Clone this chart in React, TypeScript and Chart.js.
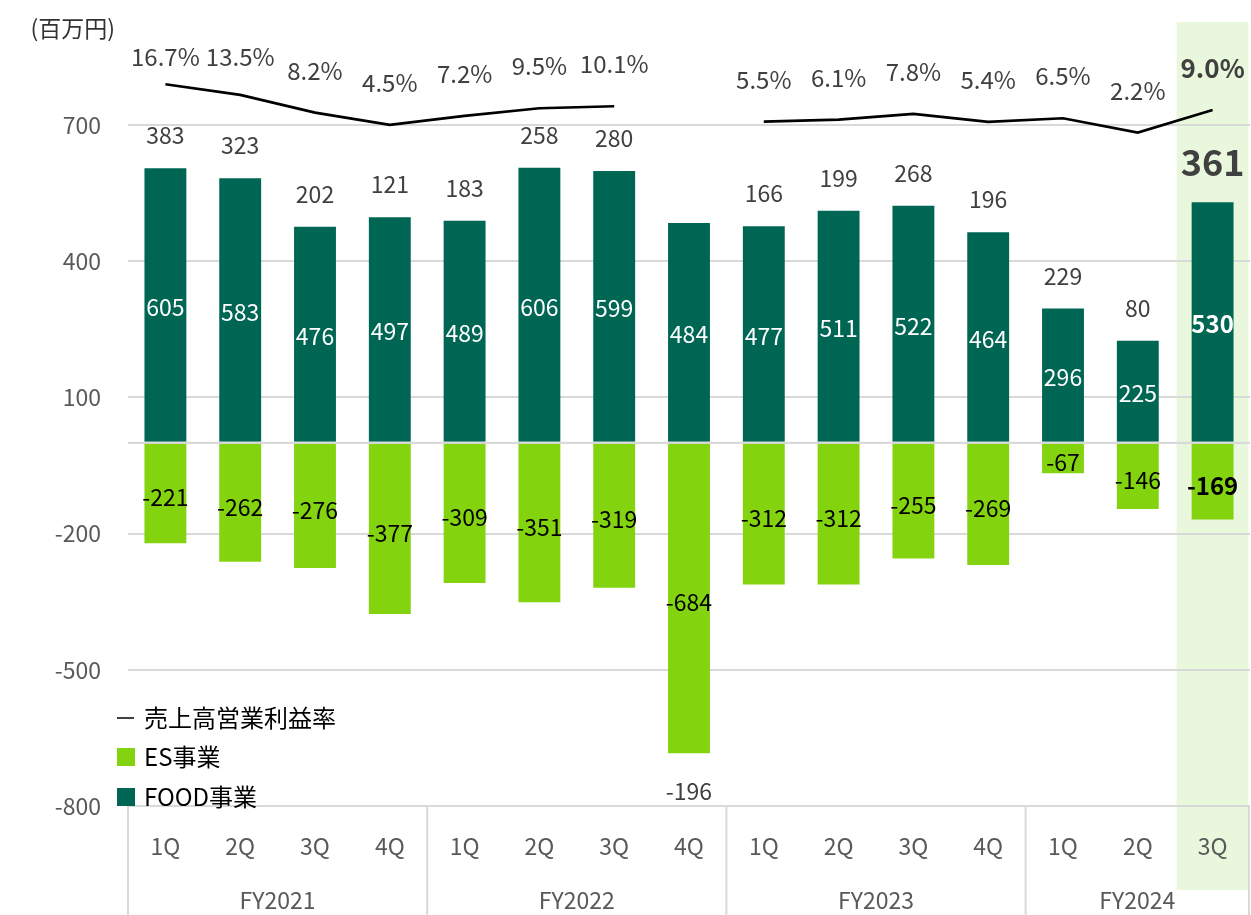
import React, { useEffect, useRef } from 'react';
import { Chart, registerables } from 'chart.js';

Chart.register(...registerables);

const quarters = ['1Q', '2Q', '3Q', '4Q', '1Q', '2Q', '3Q', '4Q', '1Q', '2Q', '3Q', '4Q', '1Q', '2Q', '3Q'];
const fiscalYears = ['FY2021', 'FY2022', 'FY2023', 'FY2024'];
const fiscalYearSizes = [4, 4, 4, 3];
const foodValues = [605, 583, 476, 497, 489, 606, 599, 484, 477, 511, 522, 464, 296, 225, 530];
const esValues = [-221, -262, -276, -377, -309, -351, -319, -684, -312, -312, -255, -269, -67, -146, -169];
const totalValues = [383, 323, 202, 121, 183, 258, 280, -196, 166, 199, 268, 196, 229, 80, 361];
const marginValues: (number | null)[] = [16.7, 13.5, 8.2, 4.5, 7.2, 9.5, 10.1, null, 5.5, 6.1, 7.8, 5.4, 6.5, 2.2, 9.0];
const yTickValues = [-800, -500, -200, 100, 400, 700];
const highlightIndex = 14;
const unitLabel = '(百万円)';
const legendLine = '売上高営業利益率';
const legendES = 'ES事業';
const legendFOOD = 'FOOD事業';

const FONT = '"Noto Sans CJK JP", "Noto Sans", sans-serif';
const FOOD_COLOR = '#006654';
const ES_COLOR = '#84d30f';
const GRID = '#d9d9d9';
const TICK_COLOR = '#595959';
const LABEL_GRAY = '#404040';

const overlayPlugin = {
  id: 'overlay',
  beforeDraw(chart: any) {
    const { ctx, chartArea, scales } = chart;
    const x = scales.x;
    const catW = x.width / quarters.length;
    const cx = x.getPixelForValue(highlightIndex);
    const w = catW * 0.96;
    ctx.save();
    ctx.fillStyle = '#e9f7dc';
    ctx.fillRect(cx - w / 2, chartArea.top, w, chart.height - 25 - chartArea.top);
    ctx.restore();
  },
  afterDatasetsDraw(chart: any) {
    const { ctx, chartArea, scales } = chart;
    const y = scales.y;
    const y0 = y.getPixelForValue(0);
    ctx.save();
    ctx.strokeStyle = GRID;
    ctx.lineWidth = 2;
    ctx.beginPath();
    ctx.moveTo(chartArea.left, y0);
    ctx.lineTo(chartArea.right, y0);
    ctx.stroke();

    const foodMeta = chart.getDatasetMeta(0);
    const esMeta = chart.getDatasetMeta(1);
    const lineMeta = chart.getDatasetMeta(2);

    ctx.textAlign = 'center';
    ctx.textBaseline = 'middle';
    for (let i = 0; i < quarters.length; i++) {
      const hl = i === highlightIndex;
      const fb = foodMeta.data[i];
      const eb = esMeta.data[i];
      ctx.fillStyle = '#ffffff';
      ctx.font = (hl ? 'bold 24px ' : '23px ') + FONT;
      ctx.fillText(String(foodValues[i]), fb.x, (fb.y + fb.base) / 2 + 2);
      ctx.fillStyle = '#000000';
      ctx.font = (hl ? 'bold 24px ' : '23px ') + FONT;
      ctx.fillText(String(esValues[i]), eb.x, (eb.y + eb.base) / 2 + 4);
      const tSize = hl ? 36 : 23;
      ctx.font = (hl ? 'bold ' : '') + tSize + 'px ' + FONT;
      ctx.fillStyle = LABEL_GRAY;
      if (totalValues[i] >= 0) {
        ctx.fillText(String(totalValues[i]), fb.x, fb.y - 20 - tSize * 0.55);
      } else {
        ctx.fillText(String(totalValues[i]), eb.x, eb.y + 38);
      }
      const mv = marginValues[i];
      if (mv !== null) {
        const pt = lineMeta.data[i];
        ctx.font = (hl ? 'bold 26px ' : '24px ') + FONT;
        ctx.fillStyle = LABEL_GRAY;
        const ly = Math.max(pt.y - 42, chartArea.top + 35);
        ctx.fillText(mv.toFixed(1) + '%', pt.x, ly);
      }
    }
    ctx.restore();
  },
  afterDraw(chart: any) {
    const { ctx, chartArea, scales } = chart;
    const x = scales.x;
    const catW = x.width / quarters.length;
    ctx.save();
    ctx.strokeStyle = GRID;
    ctx.lineWidth = 2;
    let idx = 0;
    const bounds: number[] = [];
    for (let g = 0; g <= fiscalYearSizes.length; g++) {
      const bx = g === fiscalYearSizes.length ? chartArea.right - 1 : x.getPixelForValue(idx) - catW / 2;
      bounds.push(bx);
      ctx.beginPath();
      ctx.moveTo(bx, chartArea.bottom);
      ctx.lineTo(bx, chart.height);
      ctx.stroke();
      if (g < fiscalYearSizes.length) idx += fiscalYearSizes[g];
    }
    ctx.beginPath();
    ctx.moveTo(chartArea.left, chartArea.bottom);
    ctx.lineTo(chartArea.right, chartArea.bottom);
    ctx.stroke();
    ctx.font = '23px ' + FONT;
    ctx.fillStyle = TICK_COLOR;
    ctx.textAlign = 'center';
    ctx.textBaseline = 'middle';
    for (let g = 0; g < fiscalYears.length; g++) {
      ctx.fillText(fiscalYears[g], (bounds[g] + bounds[g + 1]) / 2, chart.height - 15);
    }
    ctx.fillStyle = '#333333';
    ctx.font = '23px ' + FONT;
    ctx.textAlign = 'right';
    ctx.fillText(unitLabel, chartArea.left - 13, 28);
    const lx = chartArea.left - 11;
    const rows = [chartArea.bottom - 88, chartArea.bottom - 49, chartArea.bottom - 9];
    ctx.strokeStyle = '#000000';
    ctx.lineWidth = 1.5;
    ctx.beginPath();
    ctx.moveTo(lx, rows[0]);
    ctx.lineTo(lx + 17, rows[0]);
    ctx.stroke();
    ctx.fillStyle = ES_COLOR;
    ctx.fillRect(lx, rows[1] - 9, 18, 18);
    ctx.fillStyle = FOOD_COLOR;
    ctx.fillRect(lx, rows[2] - 9, 18, 18);
    ctx.fillStyle = '#000000';
    ctx.font = '24px ' + FONT;
    ctx.textAlign = 'left';
    ctx.fillText(legendLine, lx + 27, rows[0]);
    ctx.fillText(legendES, lx + 27, rows[1]);
    ctx.fillText(legendFOOD, lx + 27, rows[2]);
    ctx.restore();
  },
};

export default function App() {
  const canvasRef = useRef<HTMLCanvasElement | null>(null);

  useEffect(() => {
    document.body.style.margin = '0';
    const canvas = canvasRef.current;
    if (!canvas) return;
    const chart = new Chart(canvas, {
      type: 'bar',
      data: {
        labels: quarters,
        datasets: [
          {
            type: 'bar',
            label: legendFOOD,
            data: foodValues,
            backgroundColor: FOOD_COLOR,
            borderWidth: 0,
            barPercentage: 0.56,
            categoryPercentage: 1,
            yAxisID: 'y',
            order: 2,
          },
          {
            type: 'bar',
            label: legendES,
            data: esValues,
            backgroundColor: ES_COLOR,
            borderWidth: 0,
            barPercentage: 0.56,
            categoryPercentage: 1,
            yAxisID: 'y',
            order: 2,
          },
          {
            type: 'line',
            label: legendLine,
            data: marginValues,
            borderColor: '#000000',
            borderWidth: 2.7,
            pointRadius: 0,
            tension: 0,
            spanGaps: false,
            yAxisID: 'y2',
            order: 1,
          } as any,
        ],
      },
      options: {
        responsive: false,
        animation: false,
        devicePixelRatio: 1,
        layout: { padding: { top: 22, right: 1, left: 0, bottom: 0 } },
        plugins: {
          legend: { display: false },
          tooltip: { enabled: false },
          title: { display: false },
        },
        scales: {
          x: {
            stacked: true,
            grid: { display: false, drawTicks: false },
            border: { display: false },
            ticks: {
              color: TICK_COLOR,
              font: { family: FONT, size: 23 },
              padding: 26,
              maxRotation: 0,
              autoSkip: false,
            },
            afterFit: (s: any) => {
              s.height = 109;
              s.paddingLeft = 0;
              s.paddingRight = 0;
            },
          },
          y: {
            stacked: true,
            min: -800,
            max: 927,
            grid: { color: GRID, lineWidth: 2, drawTicks: false },
            border: { display: false },
            afterBuildTicks: (s: any) => {
              s.ticks = [...yTickValues, 0].sort((a, b) => a - b).map((v) => ({ value: v }));
            },
            ticks: {
              color: TICK_COLOR,
              font: { family: FONT, size: 23 },
              padding: 27,
              callback: (v: any) => (Number(v) === 0 ? '' : String(v)),
            },
            afterFit: (s: any) => {
              s.width = 128;
              s.paddingTop = 0;
              s.paddingBottom = 0;
            },
          },
          y2: {
            display: false,
            min: -200,
            max: 35.4,
            stacked: false,
          },
        },
      },
      plugins: [overlayPlugin],
    });
    return () => chart.destroy();
  }, []);

  return (
    <div style={{ width: 1251, height: 915 }}>
      <canvas ref={canvasRef} width={1251} height={915} style={{ display: 'block' }} />
    </div>
  );
}
